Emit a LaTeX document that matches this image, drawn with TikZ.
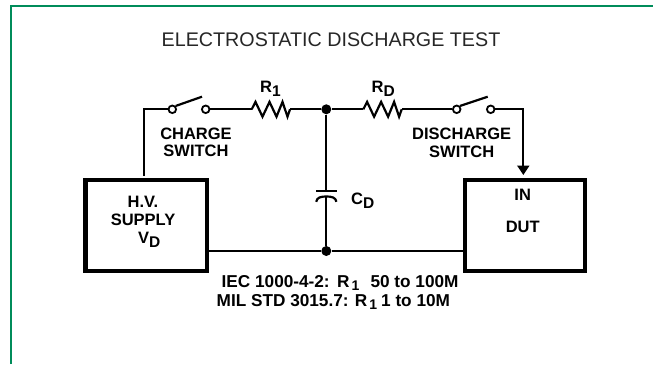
\documentclass[tikz,border=0pt]{standalone}
\usepackage{fontspec}
\setmainfont{Liberation Sans}
\usetikzlibrary{arrows.meta}
\newcommand{\lbl}{\fontsize{16.5}{17.5}\selectfont\bfseries}
\newcommand{\lblb}{\fontsize{17.2}{17.5}\selectfont\bfseries}
\newcommand{\sbs}[1]{\raisebox{-4pt}{\fontsize{15.5}{15}\selectfont #1}}
\newcommand{\sbb}[1]{\raisebox{-2.5pt}{\fontsize{14}{14}\selectfont #1}}
\tikzset{
  wire/.style={line width=2.2pt,black,line join=miter},
  frameline/.style={line width=2pt,color={rgb,255:red,0;green,140;blue,90}},
  box/.style={draw=black,line width=4.4pt,fill=white,minimum height=91.5pt,inner sep=0pt,anchor=north west},
  term/.style={circle,draw=black,line width=1.8pt,fill=white,minimum size=7.6pt,inner sep=0pt},
  dot/.style={circle,fill=black,minimum size=10pt,inner sep=0pt},
  txt/.style={font=\lbl,align=center,inner sep=0pt,text=black},
  ltxt/.style={font=\lbl,inner sep=0pt,anchor=base west,text=black},
  btxt/.style={font=\lblb,inner sep=0pt,anchor=base west,text=black},
}
\begin{document}
\begin{tikzpicture}[x=1pt,y=-1pt]
\useasboundingbox (0,0) rectangle (653,364);
\fill[white] (0,0) rectangle (653,364);
\coordinate (fa) at (11,364);
\coordinate (fb) at (11,6);
\coordinate (fc) at (653,6);
\draw[frameline] (fa) -- (fb) -- (fc);
\node[inner sep=0pt,text=black!85,font=\fontsize{19.7}{20}\selectfont] (title) at (331,40) {ELECTROSTATIC DISCHARGE TEST};
\node[box,minimum width=121.5pt] (hv) at (83.2,177.5) {};
\node[box,minimum width=119.5pt] (dut) at (463,177.5) {};
\node[dot] (jt) at (326.3,109.3) {};
\node[dot] (jb) at (326.3,251) {};
\node[term] (s1a) at (172.3,109.3) {};
\node[term] (s1b) at (205.7,109.3) {};
\node[term] (s2a) at (456.7,109.3) {};
\node[term] (s2b) at (490.7,109.3) {};
\coordinate (a1) at (202,96.7);
\coordinate (a2) at (487.7,96.7);
\coordinate (c1) at (144.3,109.3);
\coordinate (c2) at (523.3,109.3);
\coordinate (hvt) at (144.3,175.5);
\coordinate (dutin) at (523.3,175);
\coordinate (r1a) at (251.7,109.3);
\coordinate (r1b) at (290,109.3);
\coordinate (rda) at (363.3,109.3);
\coordinate (rdb) at (401.7,109.3);
\coordinate (captop) at (326.3,190.7);
\coordinate (capbot) at (326.3,196.5);
\draw[wire] (hvt) -- (c1) -- (s1a);
\draw[wire] (s1a.north east) -- (a1);
\draw[wire] (s1b) -- (r1a);
\draw[wire] (r1a) -- ++(3.8,-7.4) -- ++(7,14.8) -- ++(7,-14.8) -- ++(7,14.8) -- ++(6,-14.8) -- ++(5,14.8) -- (r1b);
\draw[wire] (r1b) -- (jt) -- (rda);
\draw[wire] (rda) -- ++(3.8,-7.4) -- ++(7,14.8) -- ++(7,-14.8) -- ++(7,14.8) -- ++(6,-14.8) -- ++(5,14.8) -- (rdb);
\draw[wire] (rdb) -- (s2a);
\draw[wire] (s2a.north east) -- (a2);
\draw[wire,-{Triangle[width=12pt,length=9.5pt]}] (s2b) -- (c2) -- (dutin);
\draw[wire] (jt) -- (captop);
\draw[wire] (316,190.7) -- (336.7,190.7);
\draw[wire] (316.2,201.8) .. controls (316.8,197.5) and (321,196.4) .. (capbot) .. controls (331.6,196.4) and (335.8,197.5) .. (336.4,201.8);
\draw[wire] (capbot) -- (jb);
\draw[wire] (hv.east |- jb) -- (jb) -- (dut.west |- jb);
\node[ltxt] (r1l) at (260,92) {R\sbs{1}};
\node[ltxt] (rdl) at (371.5,92) {R\sbs{D}};
\node[ltxt] (cdl) at (351,204) {C\sbs{D}};
\node[txt] (chg) at (196,142.5) {CHARGE\\SWITCH};
\node[txt] (dis) at (461.7,143) {DISCHARGE\\SWITCH};
\node[txt] (hvt1) at (143,202) {H.V.};
\node[txt] (hvt2) at (143,220) {SUPPLY};
\node[ltxt] (hvt3) at (138,243.5) {V\sbs{D}};
\node[txt] (in) at (522.7,195) {IN};
\node[txt] (dutl) at (522.7,226.7) {DUT};
\node[btxt] (iec) at (221.5,287.5) {IEC 1000-4-2:\hspace{1pt} R\hspace{2pt}\sbb{1}\hspace{6.5pt} 50 to 100M};
\node[btxt] (mil) at (216.5,306.5) {MIL STD 3015.7: R\hspace{2pt}\sbb{1}\hspace{4pt}1 to 10M};
\end{tikzpicture}
\end{document}
